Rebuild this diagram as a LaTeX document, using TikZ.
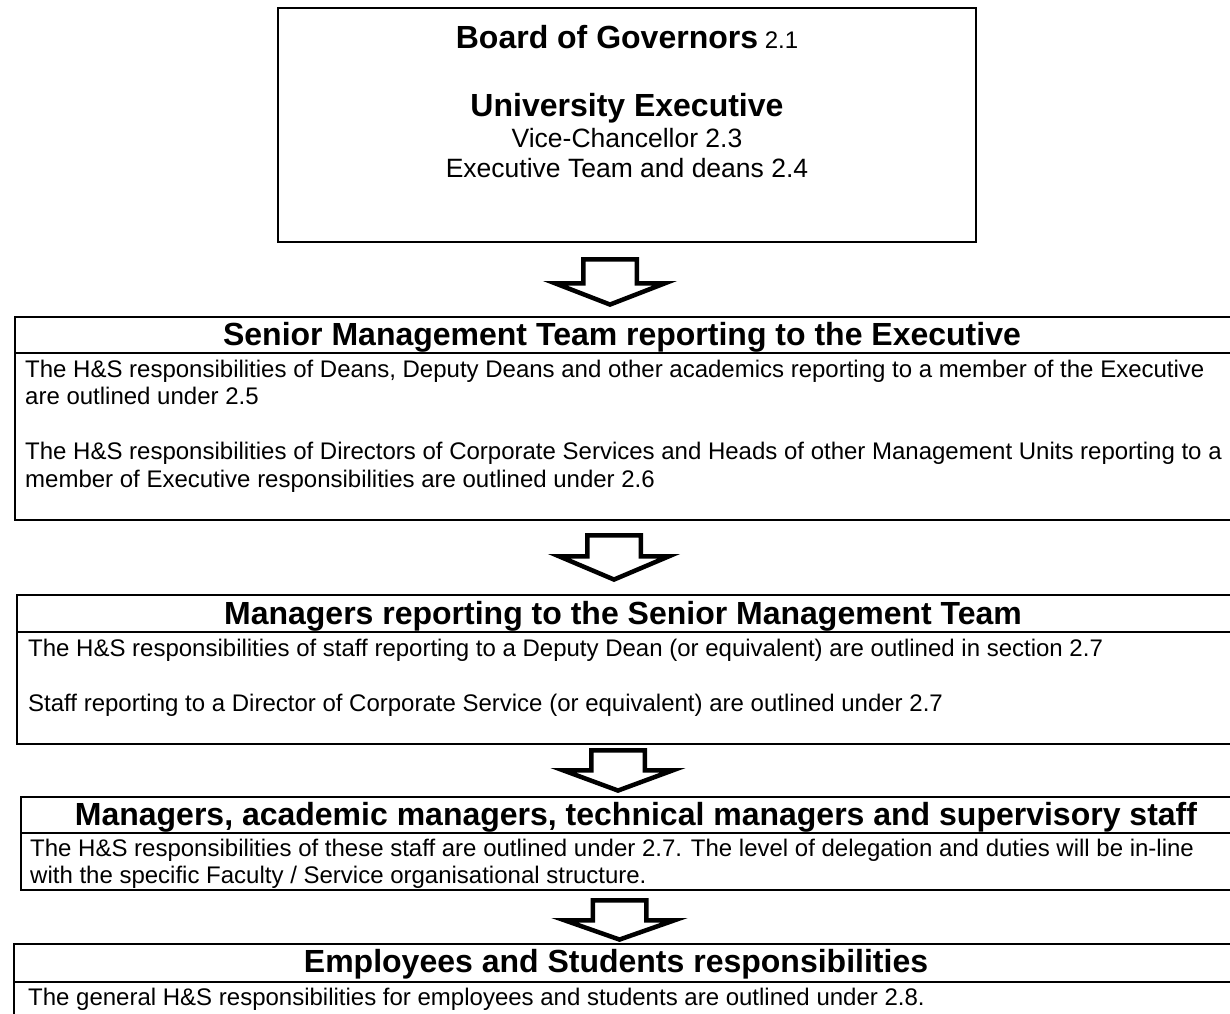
\documentclass[tikz,border=0pt]{standalone}
\usepackage{fontspec}
\setmainfont{Liberation Sans}
\tikzset{
  frame/.style={draw, line width=2.4pt, inner sep=0pt, outer sep=0pt, anchor=north west},
  hsep/.style={line width=2.2pt},
  blockarrow/.style={draw, fill=white, line width=4.5pt, line join=miter},
  head/.style={font=\fontsize{32}{36.8}\selectfont\bfseries, inner sep=0pt, anchor=base},
  body/.style={font=\fontsize{24}{27.6}\selectfont, inner sep=0pt, anchor=base west},
  sub/.style={font=\fontsize{26.5}{30.5}\selectfont, inner sep=0pt, anchor=base},
  pics/downarr/.style n args={2}{code={
    \draw[blockarrow] (-26.75,0) -- (26.75,0) -- (26.75,#1) -- (55,#1) -- (0,#2)
      -- (-55,#1) -- (-26.75,#1) -- cycle;
  }},
}
\begin{document}
\begin{tikzpicture}[x=1pt,y=-1pt]
\path[use as bounding box] (0,0) rectangle (1230,1013);
\clip (0,0) rectangle (1230,1013);
\fill[white] (0,0) rectangle (1230,1013);

% boxes
\node[frame, minimum width=698pt, minimum height=234pt] (gov) at (278,8) {};
\node[frame, minimum width=1240pt, minimum height=203pt] (smt) at (15,317) {};
\node[frame, minimum width=1240pt, minimum height=149pt] (mgr) at (17,595) {};
\node[frame, minimum width=1240pt, minimum height=93pt] (sup) at (21,797) {};
\node[frame, minimum width=1240pt, minimum height=120pt] (emp) at (14,944) {};

% header separators
\draw[hsep] ([yshift=-36pt]smt.north west) -- ([yshift=-36pt]smt.north east);
\draw[hsep] ([yshift=-37pt]mgr.north west) -- ([yshift=-37pt]mgr.north east);
\draw[hsep] ([yshift=-36pt]sup.north west) -- ([yshift=-36pt]sup.north east);
\draw[hsep] ([yshift=-38pt]emp.north west) -- ([yshift=-38pt]emp.north east);

% arrows
\coordinate (a1) at (610,259.25);
\coordinate (a2) at (614,535.25);
\coordinate (a3) at (618,750.25);
\coordinate (a4) at (619.5,900.25);
\pic at (a1) {downarr={24}{45.3}};
\pic at (a2) {downarr={21}{44.3}};
\pic at (a3) {downarr={20}{40.3}};
\pic at (a4) {downarr={20}{39.3}};

% top box text
\node[head] (t1) at (627,48.5) {Board of Governors\fontsize{24}{27.6}\selectfont\mdseries\ 2.1};
\node[head] (t2) at (627,116.5) {University Executive};
\node[sub] (t3) at (627,147.5) {Vice-Chancellor 2.3};
\node[sub] (t4) at (627,177.5) {Executive Team and deans 2.4};

% box 2
\node[head] (h2) at (622,345) {Senior Management Team reporting to the Executive};
\node[body] (s1) at (25,377) {The H\&S responsibilities of Deans, Deputy Deans and other academics reporting to a member of the Executive};
\node[body] (s2) at (25,404.6) {are outlined under 2.5};
\node[body] (s3) at (25,459.8) {The H\&S responsibilities of Directors of Corporate Services and Heads of other Management Units reporting to a};
\node[body] (s4) at (25,487.4) {member of Executive responsibilities are outlined under 2.6};

% box 3
\node[head] (h3) at (623,624) {Managers reporting to the Senior Management Team};
\node[body] (m1) at (28,656) {The H\&S responsibilities of staff reporting to a Deputy Dean (or equivalent) are outlined in section 2.7};
\node[body] (m2) at (28,711.2) {Staff reporting to a Director of Corporate Service (or equivalent) are outlined under 2.7};

% box 4
\node[head] (h4) at (636,825) {Managers, academic managers, technical managers and supervisory staff};
\node[body] (p1) at (30,856) {The H\&S responsibilities of these staff are outlined under 2.7. The level of delegation and duties will be in-line};
\node[body] (p2) at (30,883.6) {with the specific Faculty / Service organisational structure.};

% box 5
\node[head] (h5) at (616,972) {Employees and Students responsibilities};
\node[body] (e1) at (28,1005) {The general H\&S responsibilities for employees and students are outlined under 2.8.};
\end{tikzpicture}
\end{document}
